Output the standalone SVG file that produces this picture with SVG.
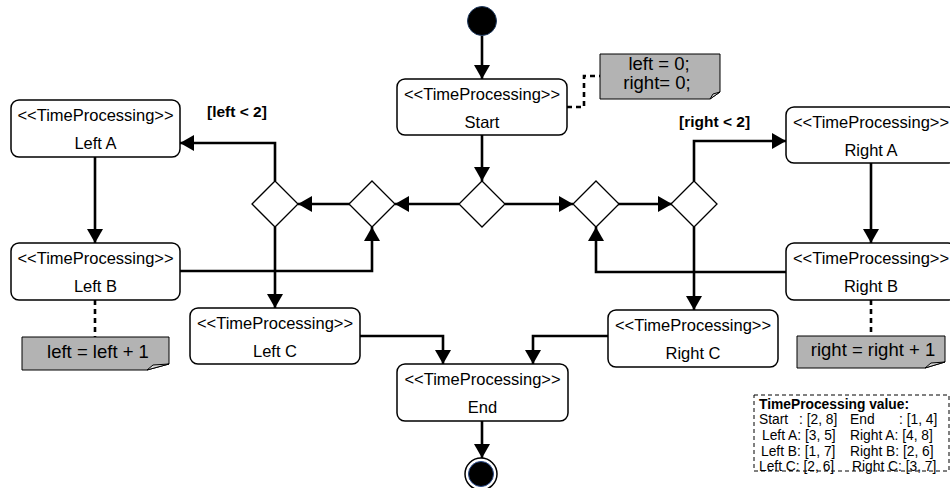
<svg xmlns="http://www.w3.org/2000/svg" width="950" height="488" viewBox="0 0 950 488">
<style>
  .box { fill: #ffffff; stroke: #000000; stroke-width: 1.5; }
  .t { font-family: "Liberation Sans", Arial, sans-serif; font-size: 16.5px; fill: #000; text-anchor: middle; }
  .nt { font-family: "Liberation Sans", Arial, sans-serif; font-size: 18.5px; fill: #000; text-anchor: middle; }
  .g { font-family: "Liberation Sans", Arial, sans-serif; font-size: 15.5px; font-weight: bold; fill: #000; }
  .lg { font-family: "Liberation Sans", Arial, sans-serif; font-size: 13.8px; fill: #000; }
  .lgb { font-family: "Liberation Sans", Arial, sans-serif; font-size: 13.8px; font-weight: bold; fill: #000; }
  .dia { fill: #ffffff; stroke: #000000; stroke-width: 1.3; }
  .note { fill: #b3b3b3; stroke: #000000; stroke-width: 1; }
  .fold { fill: #d9d9d9; stroke: #000000; stroke-width: 1; }
  .c { fill: none; stroke: #000000; stroke-width: 2.6; marker-end: url(#arr); }
  .d { fill: none; stroke: #000000; stroke-width: 2.6; stroke-dasharray: 5 4; }
</style>
<defs>
  <marker id="arr" viewBox="0 0 14 16" refX="14" refY="8" markerWidth="14" markerHeight="16" markerUnits="userSpaceOnUse" orient="auto">
    <path d="M0,0 L14,8 L0,16 Z" fill="#000"/>
  </marker>
</defs>

<g id="connectors">
  <path class="c" d="M482,36 V79"/>
  <path class="c" d="M482,135 V181"/>
  <path class="c" d="M459,204 H395"/>
  <path class="c" d="M350,204 H298"/>
  <path class="c" d="M505,204 H573"/>
  <path class="c" d="M618,204 H672"/>
  <path class="c" d="M275,181 V143 H180"/>
  <path class="c" d="M275,227 V308"/>
  <path class="c" d="M95,157 V243"/>
  <path class="c" d="M180,271 H372 V227"/>
  <path class="c" d="M694,181 V141 H786"/>
  <path class="c" d="M871,163 V243"/>
  <path class="c" d="M786,272 H596 V227"/>
  <path class="c" d="M694,227 V310"/>
  <path class="c" d="M360,336 H443 V364"/>
  <path class="c" d="M608,336 H533 V364"/>
  <path class="c" d="M482,421 V458"/>
  <path class="d" d="M567,107 H584 V76 H600"/>
  <path class="d" d="M95,300 V337"/>
  <path class="d" d="M871,300 V336"/>
  <text class="g" x="207" y="117">[left &lt; 2]</text>
  <text class="g" x="679" y="127">[right &lt; 2]</text>
</g>

<g id="initial">
  <circle cx="482" cy="21" r="14.5" fill="#000" stroke="#1f3a60" stroke-width="1"/>
</g>

<g id="start">
  <rect class="box" x="397" y="79" width="170" height="56" rx="8"/>
  <text class="t" x="482" y="100">&lt;&lt;TimeProcessing&gt;&gt;</text>
  <text class="t" x="482" y="127.5">Start</text>
</g>

<g id="note-init">
  <path class="note" d="M600,54 H720 V92 L710,99 H600 Z"/>
  <path class="fold" d="M710,99 L713,94 L720,92 Z"/>
  <text class="nt" x="659" y="70">left = 0;</text>
  <text class="nt" x="657" y="89">right= 0;</text>
</g>

<g id="d0"><path class="dia" d="M482,181 L505,204 L482,227 L459,204 Z"/></g>
<g id="dL1"><path class="dia" d="M372,181 L395,204 L372,227 L349,204 Z"/></g>
<g id="dL2"><path class="dia" d="M275,181 L298,204 L275,227 L252,204 Z"/></g>
<g id="dR1"><path class="dia" d="M596,181 L619,204 L596,227 L573,204 Z"/></g>
<g id="dR2"><path class="dia" d="M694,181 L717,204 L694,227 L671,204 Z"/></g>

<g id="leftA">
  <rect class="box" x="11" y="100" width="169" height="57" rx="8"/>
  <text class="t" x="95.5" y="121">&lt;&lt;TimeProcessing&gt;&gt;</text>
  <text class="t" x="95.5" y="148.5">Left A</text>
</g>

<g id="leftB">
  <rect class="box" x="11" y="243" width="169" height="57" rx="8"/>
  <text class="t" x="95.5" y="264">&lt;&lt;TimeProcessing&gt;&gt;</text>
  <text class="t" x="95.5" y="291.5">Left B</text>
</g>

<g id="note-left">
  <path class="note" d="M22,337 H169 V364 L147,370 H22 Z"/>
  <path class="fold" d="M147,370 L153,365 L169,364 Z"/>
  <text class="nt" x="98" y="358">left = left + 1</text>
</g>

<g id="leftC">
  <rect class="box" x="190" y="308" width="170" height="56" rx="8"/>
  <text class="t" x="275" y="329">&lt;&lt;TimeProcessing&gt;&gt;</text>
  <text class="t" x="275" y="356.5">Left C</text>
</g>

<g id="rightA">
  <rect class="box" x="786" y="107" width="170" height="56" rx="8"/>
  <text class="t" x="871" y="128">&lt;&lt;TimeProcessing&gt;&gt;</text>
  <text class="t" x="871" y="155.5">Right A</text>
</g>

<g id="rightB">
  <rect class="box" x="786" y="243" width="170" height="57" rx="8"/>
  <text class="t" x="871" y="264">&lt;&lt;TimeProcessing&gt;&gt;</text>
  <text class="t" x="871" y="291.5">Right B</text>
</g>

<g id="note-right">
  <path class="note" d="M797,336 H945 V362 L925,368 H797 Z"/>
  <path class="fold" d="M925,368 L931,363 L945,362 Z"/>
  <text class="nt" x="873" y="356">right = right + 1</text>
</g>

<g id="rightC">
  <rect class="box" x="608" y="310" width="170" height="57" rx="8"/>
  <text class="t" x="693" y="331">&lt;&lt;TimeProcessing&gt;&gt;</text>
  <text class="t" x="693" y="358.5">Right C</text>
</g>

<g id="end">
  <rect class="box" x="397" y="364" width="171" height="57" rx="8"/>
  <text class="t" x="482.5" y="385">&lt;&lt;TimeProcessing&gt;&gt;</text>
  <text class="t" x="482.5" y="412.5">End</text>
</g>

<g id="final">
  <circle cx="481" cy="474" r="16" fill="#fff" stroke="#000" stroke-width="1.5"/>
  <circle cx="481" cy="474" r="12.5" fill="#000" stroke="#2a4a8a" stroke-width="1"/>
</g>

<g id="legend">
  <rect x="754" y="395" width="195" height="76" fill="none" stroke="#000" stroke-width="1" stroke-dasharray="4 3"/>
  <text class="lgb" x="759" y="408.5">TimeProcessing value:</text>
  <text class="lg" x="759" y="424.3">Start</text>
  <text class="lg" x="799" y="424.3">: [2, 8]</text>
  <text class="lg" x="850" y="424.3">End</text>
  <text class="lg" x="899" y="424.3">: [1, 4]</text>
  <text class="lg" x="762" y="440">Left A: [3, 5]</text>
  <text class="lg" x="850" y="440">Right A: [4, 8]</text>
  <text class="lg" x="761" y="455.6">Left B: [1, 7]</text>
  <text class="lg" x="850" y="455.6">Right B: [2, 6]</text>
  <text class="lg" x="759" y="471.2">Left C: [2, 6]</text>
  <text class="lg" x="852" y="471.2">Right C: [3, 7]</text>
</g>
</svg>
